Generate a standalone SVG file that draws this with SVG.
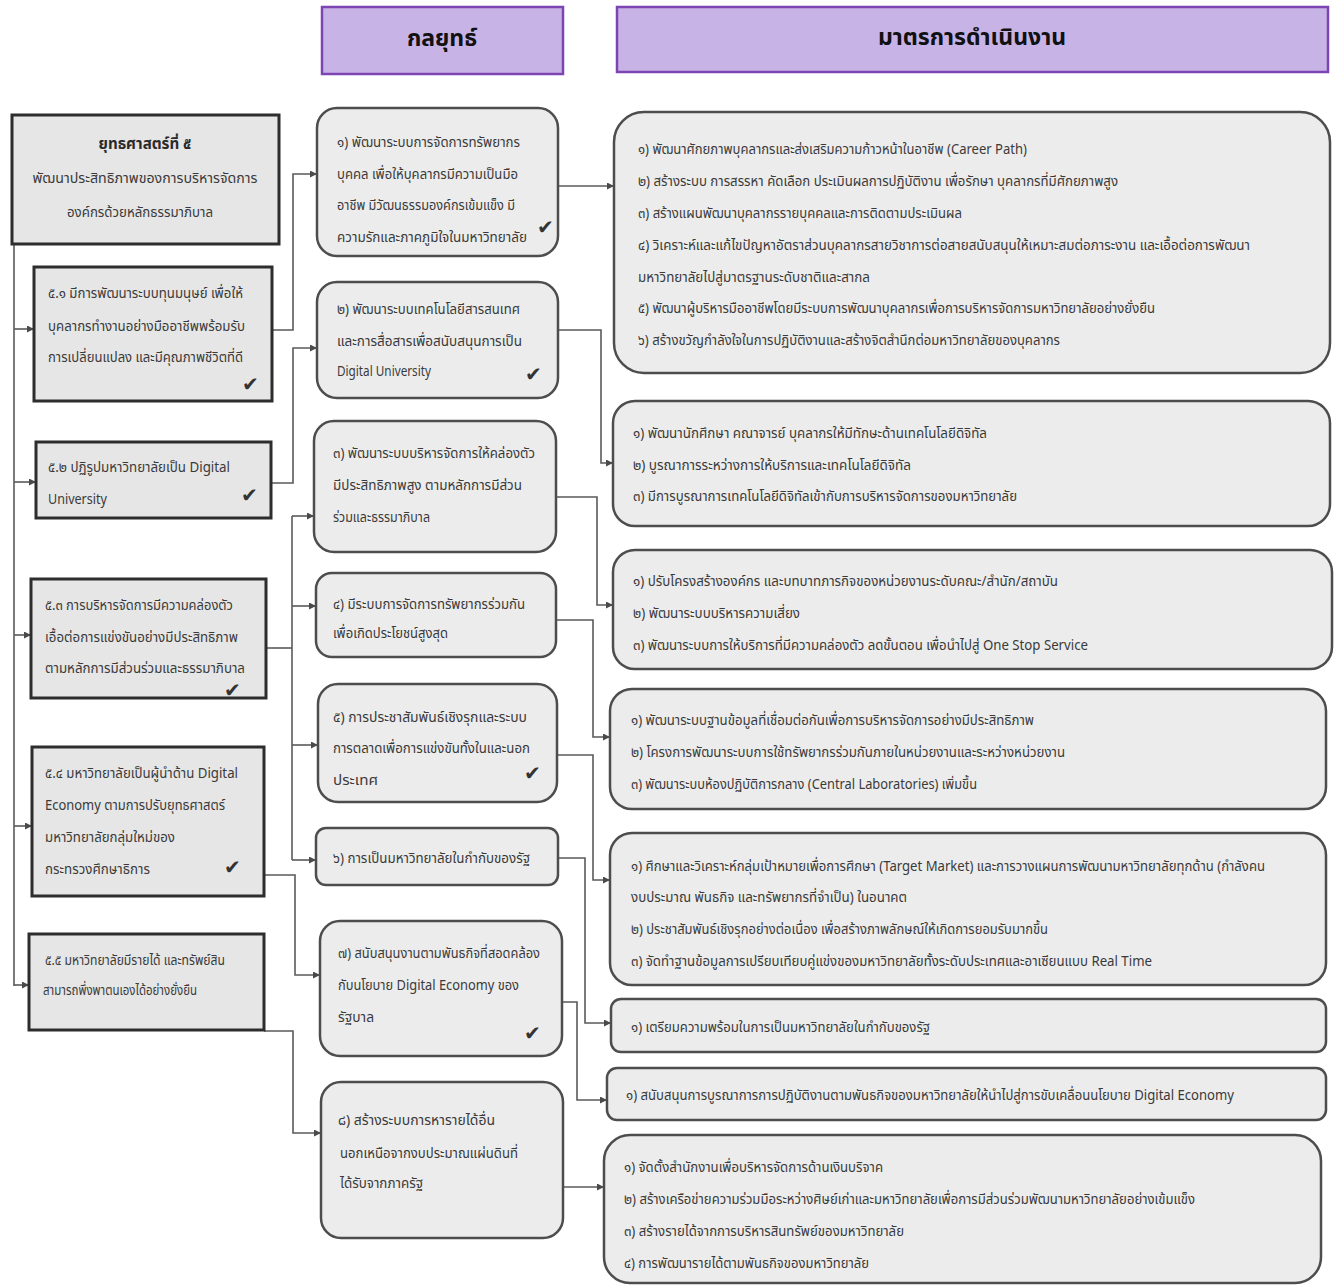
<svg xmlns="http://www.w3.org/2000/svg" width="1339" height="1286" viewBox="0 0 1339 1286">
<style>
.hdr{fill:#c8b3e7;stroke:#7d45b3;stroke-width:2.5}
.hdrt{font-family:"Noto Sans Thai","Noto Sans","DejaVu Sans",sans-serif;font-size:23px;font-weight:bold;fill:#111;text-anchor:middle}
.lb{fill:#e6e6e6;stroke:#2d2d2d;stroke-width:3}
.rb{fill:#ececec;stroke:#4d4d4d;stroke-width:2.5}
.t{font-family:"Noto Sans Thai","Noto Sans","DejaVu Sans",sans-serif;font-size:14px;fill:#3a3a3a}
.tb{font-family:"Noto Sans Thai","Noto Sans","DejaVu Sans",sans-serif;font-size:15px;font-weight:bold;fill:#2a2a2a;text-anchor:middle}
.tc{font-family:"Noto Sans Thai","Noto Sans","DejaVu Sans",sans-serif;font-size:14px;fill:#3a3a3a;text-anchor:middle}
.ck{font-family:"DejaVu Sans",sans-serif;font-size:20px;fill:#333}
.c{fill:none;stroke:#5a5a5a;stroke-width:1.6}
</style>
<defs>
<marker id="ah" viewBox="0 0 10 10" refX="10" refY="5" markerWidth="7" markerHeight="7" markerUnits="userSpaceOnUse" orient="auto">
<path d="M0,0 L10,5 L0,10 z" fill="#4a4a4a"/>
</marker>
</defs>
<rect width="1339" height="1286" fill="#ffffff"/>

<g id="header-strategy">
<rect class="hdr" x="322" y="7" width="241" height="67"/>
<text class="hdrt" x="442" y="46">กลยุทธ์</text>
</g>
<g id="header-measures">
<rect class="hdr" x="617" y="7" width="711" height="65"/>
<text class="hdrt" x="972" y="45">มาตรการดำเนินงาน</text>
</g>

<g id="connectors">
<path class="c" d="M14,244 V986"/>
<path class="c" d="M14,329 H34" marker-end="url(#ah)"/>
<path class="c" d="M14,482 H36" marker-end="url(#ah)"/>
<path class="c" d="M14,635 H31" marker-end="url(#ah)"/>
<path class="c" d="M14,826 H32" marker-end="url(#ah)"/>
<path class="c" d="M14,985 H29" marker-end="url(#ah)"/>

<path class="c" d="M272,330 H293 V174 H317" marker-end="url(#ah)"/>
<path class="c" d="M271,483 H293 V348 H317" marker-end="url(#ah)"/>
<path class="c" d="M266,648 H292"/>
<path class="c" d="M292,516 V860"/>
<path class="c" d="M292,516 H314" marker-end="url(#ah)"/>
<path class="c" d="M292,606 H316" marker-end="url(#ah)"/>
<path class="c" d="M292,745 H318" marker-end="url(#ah)"/>
<path class="c" d="M292,860 H316" marker-end="url(#ah)"/>
<path class="c" d="M264,875 H295 V975 H320" marker-end="url(#ah)"/>
<path class="c" d="M264,1031 H293 V1133 H321" marker-end="url(#ah)"/>

<path class="c" d="M558,186 H614" marker-end="url(#ah)"/>
<path class="c" d="M558,330 H601 V463 H613" marker-end="url(#ah)"/>
<path class="c" d="M556,497 H597 V605 H613" marker-end="url(#ah)"/>
<path class="c" d="M556,620 H593 V737 H610" marker-end="url(#ah)"/>
<path class="c" d="M557,755 H593 V880 H610" marker-end="url(#ah)"/>
<path class="c" d="M558,858 H585 V1023 H611" marker-end="url(#ah)"/>
<path class="c" d="M562,1002 H577 V1100 H607" marker-end="url(#ah)"/>
<path class="c" d="M563,1187 H604" marker-end="url(#ah)"/>
</g>

<g id="goal5">
<rect class="lb" x="12" y="115" width="267" height="129"/>
<text class="tb" x="145" y="149" textLength="93" lengthAdjust="spacingAndGlyphs">ยุทธศาสตร์ที่ ๕</text>
<text class="tc" x="145" y="183" textLength="225" lengthAdjust="spacingAndGlyphs">พัฒนาประสิทธิภาพของการบริหารจัดการ</text>
<text class="tc" x="140" y="217" textLength="146" lengthAdjust="spacingAndGlyphs">องค์กรด้วยหลักธรรมาภิบาล</text>
</g>

<g id="goal5-1">
<rect class="lb" x="34" y="267" width="238" height="134"/>
<text class="t" x="48" y="298" textLength="195" lengthAdjust="spacingAndGlyphs">๕.๑ มีการพัฒนาระบบทุนมนุษย์ เพื่อให้</text>
<text class="t" x="48" y="331" textLength="197" lengthAdjust="spacingAndGlyphs">บุคลากรทำงานอย่างมืออาชีพพร้อมรับ</text>
<text class="t" x="48" y="362" textLength="195" lengthAdjust="spacingAndGlyphs">การเปลี่ยนแปลง และมีคุณภาพชีวิตที่ดี</text>
<text class="ck" x="242" y="391">✔</text>
</g>

<g id="goal5-2">
<rect class="lb" x="36" y="442" width="235" height="76"/>
<text class="t" x="48" y="472" textLength="182" lengthAdjust="spacingAndGlyphs">๕.๒ ปฏิรูปมหาวิทยาลัยเป็น Digital</text>
<text class="t" x="48" y="504" textLength="59" lengthAdjust="spacingAndGlyphs">University</text>
<text class="ck" x="241" y="502">✔</text>
</g>

<g id="goal5-3">
<rect class="lb" x="31" y="579" width="235" height="119"/>
<text class="t" x="45" y="610" textLength="188" lengthAdjust="spacingAndGlyphs">๕.๓ การบริหารจัดการมีความคล่องตัว</text>
<text class="t" x="45" y="642" textLength="193" lengthAdjust="spacingAndGlyphs">เอื้อต่อการแข่งขันอย่างมีประสิทธิภาพ</text>
<text class="t" x="45" y="673" textLength="200" lengthAdjust="spacingAndGlyphs">ตามหลักการมีส่วนร่วมและธรรมาภิบาล</text>
<text class="ck" x="224" y="697">✔</text>
</g>

<g id="goal5-4">
<rect class="lb" x="32" y="747" width="232" height="149"/>
<text class="t" x="45" y="778" textLength="193" lengthAdjust="spacingAndGlyphs">๕.๔ มหาวิทยาลัยเป็นผู้นำด้าน Digital</text>
<text class="t" x="45" y="810" textLength="180" lengthAdjust="spacingAndGlyphs">Economy ตามการปรับยุทธศาสตร์</text>
<text class="t" x="45" y="842" textLength="130" lengthAdjust="spacingAndGlyphs">มหาวิทยาลัยกลุ่มใหม่ของ</text>
<text class="t" x="45" y="874" textLength="105" lengthAdjust="spacingAndGlyphs">กระทรวงศึกษาธิการ</text>
<text class="ck" x="224" y="874">✔</text>
</g>

<g id="goal5-5">
<rect class="lb" x="29" y="934" width="235" height="96"/>
<text class="t" x="45" y="965" textLength="180" lengthAdjust="spacingAndGlyphs">๕.๕ มหาวิทยาลัยมีรายได้ และทรัพย์สิน</text>
<text class="t" x="43" y="995" textLength="154" lengthAdjust="spacingAndGlyphs">สามารถพึ่งพาตนเองได้อย่างยั่งยืน</text>
</g>

<g id="strategy1">
<rect class="rb" x="317" y="108" width="241" height="148" rx="20"/>
<text class="t" x="337" y="147" textLength="183" lengthAdjust="spacingAndGlyphs">๑) พัฒนาระบบการจัดการทรัพยากร</text>
<text class="t" x="337" y="179" textLength="181" lengthAdjust="spacingAndGlyphs">บุคคล เพื่อให้บุคลากรมีความเป็นมือ</text>
<text class="t" x="337" y="210" textLength="178" lengthAdjust="spacingAndGlyphs">อาชีพ มีวัฒนธรรมองค์กรเข้มแข็ง มี</text>
<text class="t" x="337" y="242" textLength="190" lengthAdjust="spacingAndGlyphs">ความรักและภาคภูมิใจในมหาวิทยาลัย</text>
<text class="ck" x="537" y="234">✔</text>
</g>

<g id="strategy2">
<rect class="rb" x="317" y="282" width="241" height="116" rx="20"/>
<text class="t" x="337" y="314" textLength="183" lengthAdjust="spacingAndGlyphs">๒) พัฒนาระบบเทคโนโลยีสารสนเทศ</text>
<text class="t" x="337" y="346" textLength="185" lengthAdjust="spacingAndGlyphs">และการสื่อสารเพื่อสนับสนุนการเป็น</text>
<text class="t" x="337" y="376" textLength="94" lengthAdjust="spacingAndGlyphs">Digital University</text>
<text class="ck" x="525" y="381">✔</text>
</g>

<g id="strategy3">
<rect class="rb" x="314" y="421" width="242" height="131" rx="20"/>
<text class="t" x="333" y="458" textLength="202" lengthAdjust="spacingAndGlyphs">๓) พัฒนาระบบบริหารจัดการให้คล่องตัว</text>
<text class="t" x="333" y="490" textLength="189" lengthAdjust="spacingAndGlyphs">มีประสิทธิภาพสูง ตามหลักการมีส่วน</text>
<text class="t" x="333" y="522" textLength="97" lengthAdjust="spacingAndGlyphs">ร่วมและธรรมาภิบาล</text>
</g>

<g id="strategy4">
<rect class="rb" x="316" y="573" width="240" height="84" rx="16"/>
<text class="t" x="333" y="609" textLength="192" lengthAdjust="spacingAndGlyphs">๔) มีระบบการจัดการทรัพยากรร่วมกัน</text>
<text class="t" x="333" y="638" textLength="115" lengthAdjust="spacingAndGlyphs">เพื่อเกิดประโยชน์สูงสุด</text>
</g>

<g id="strategy5">
<rect class="rb" x="318" y="684" width="239" height="118" rx="20"/>
<text class="t" x="333" y="722" textLength="194" lengthAdjust="spacingAndGlyphs">๕) การประชาสัมพันธ์เชิงรุกและระบบ</text>
<text class="t" x="333" y="753" textLength="197" lengthAdjust="spacingAndGlyphs">การตลาดเพื่อการแข่งขันทั้งในและนอก</text>
<text class="t" x="333" y="785" textLength="45" lengthAdjust="spacingAndGlyphs">ประเทศ</text>
<text class="ck" x="524" y="780">✔</text>
</g>

<g id="strategy6">
<rect class="rb" x="316" y="828" width="242" height="57" rx="10"/>
<text class="t" x="333" y="863" textLength="197" lengthAdjust="spacingAndGlyphs">๖) การเป็นมหาวิทยาลัยในกำกับของรัฐ</text>
</g>

<g id="strategy7">
<rect class="rb" x="320" y="921" width="242" height="135" rx="20"/>
<text class="t" x="338" y="958" textLength="202" lengthAdjust="spacingAndGlyphs">๗) สนับสนุนงานตามพันธกิจที่สอดคล้อง</text>
<text class="t" x="338" y="990" textLength="181" lengthAdjust="spacingAndGlyphs">กับนโยบาย Digital Economy ของ</text>
<text class="t" x="338" y="1022" textLength="36" lengthAdjust="spacingAndGlyphs">รัฐบาล</text>
<text class="ck" x="524" y="1040">✔</text>
</g>

<g id="strategy8">
<rect class="rb" x="321" y="1082" width="242" height="156" rx="20"/>
<text class="t" x="338" y="1125" textLength="157" lengthAdjust="spacingAndGlyphs">๘) สร้างระบบการหารายได้อื่น</text>
<text class="t" x="340" y="1158" textLength="178" lengthAdjust="spacingAndGlyphs">นอกเหนือจากงบประมาณแผ่นดินที่</text>
<text class="t" x="340" y="1188" textLength="83" lengthAdjust="spacingAndGlyphs">ได้รับจากภาครัฐ</text>
</g>

<g id="measures1">
<rect class="rb" x="614" y="112" width="716" height="261" rx="30"/>
<text class="t" x="638" y="154" textLength="389" lengthAdjust="spacingAndGlyphs">๑) พัฒนาศักยภาพบุคลากรและส่งเสริมความก้าวหน้าในอาชีพ (Career Path)</text>
<text class="t" x="638" y="186" textLength="480" lengthAdjust="spacingAndGlyphs">๒) สร้างระบบ การสรรหา คัดเลือก ประเมินผลการปฏิบัติงาน เพื่อรักษา บุคลากรที่มีศักยภาพสูง</text>
<text class="t" x="638" y="218" textLength="324" lengthAdjust="spacingAndGlyphs">๓) สร้างแผนพัฒนาบุคลากรรายบุคคลและการติดตามประเมินผล</text>
<text class="t" x="638" y="250" textLength="612" lengthAdjust="spacingAndGlyphs">๔) วิเคราะห์และแก้ไขปัญหาอัตราส่วนบุคลากรสายวิชาการต่อสายสนับสนุนให้เหมาะสมต่อภาระงาน และเอื้อต่อการพัฒนา</text>
<text class="t" x="638" y="282" textLength="232" lengthAdjust="spacingAndGlyphs">มหาวิทยาลัยไปสู่มาตรฐานระดับชาติและสากล</text>
<text class="t" x="638" y="313" textLength="517" lengthAdjust="spacingAndGlyphs">๕) พัฒนาผู้บริหารมืออาชีพโดยมีระบบการพัฒนาบุคลากรเพื่อการบริหารจัดการมหาวิทยาลัยอย่างยั่งยืน</text>
<text class="t" x="638" y="345" textLength="422" lengthAdjust="spacingAndGlyphs">๖) สร้างขวัญกำลังใจในการปฏิบัติงานและสร้างจิตสำนึกต่อมหาวิทยาลัยของบุคลากร</text>
</g>

<g id="measures2">
<rect class="rb" x="613" y="401" width="717" height="125" rx="22"/>
<text class="t" x="633" y="438" textLength="354" lengthAdjust="spacingAndGlyphs">๑) พัฒนานักศึกษา คณาจารย์ บุคลากรให้มีทักษะด้านเทคโนโลยีดิจิทัล</text>
<text class="t" x="633" y="470" textLength="278" lengthAdjust="spacingAndGlyphs">๒) บูรณาการระหว่างการให้บริการและเทคโนโลยีดิจิทัล</text>
<text class="t" x="633" y="501" textLength="384" lengthAdjust="spacingAndGlyphs">๓) มีการบูรณาการเทคโนโลยีดิจิทัลเข้ากับการบริหารจัดการของมหาวิทยาลัย</text>
</g>

<g id="measures3">
<rect class="rb" x="613" y="550" width="719" height="119" rx="22"/>
<text class="t" x="633" y="586" textLength="425" lengthAdjust="spacingAndGlyphs">๑) ปรับโครงสร้างองค์กร และบทบาทภารกิจของหน่วยงานระดับคณะ/สำนัก/สถาบัน</text>
<text class="t" x="633" y="618" textLength="167" lengthAdjust="spacingAndGlyphs">๒) พัฒนาระบบบริหารความเสี่ยง</text>
<text class="t" x="633" y="650" textLength="455" lengthAdjust="spacingAndGlyphs">๓) พัฒนาระบบการให้บริการที่มีความคล่องตัว ลดขั้นตอน เพื่อนำไปสู่ One Stop Service</text>
</g>

<g id="measures4">
<rect class="rb" x="610" y="689" width="716" height="120" rx="22"/>
<text class="t" x="631" y="725" textLength="403" lengthAdjust="spacingAndGlyphs">๑) พัฒนาระบบฐานข้อมูลที่เชื่อมต่อกันเพื่อการบริหารจัดการอย่างมีประสิทธิภาพ</text>
<text class="t" x="631" y="757" textLength="434" lengthAdjust="spacingAndGlyphs">๒) โครงการพัฒนาระบบการใช้ทรัพยากรร่วมกันภายในหน่วยงานและระหว่างหน่วยงาน</text>
<text class="t" x="631" y="789" textLength="346" lengthAdjust="spacingAndGlyphs">๓) พัฒนาระบบห้องปฏิบัติการกลาง (Central Laboratories) เพิ่มขึ้น</text>
</g>

<g id="measures5">
<rect class="rb" x="610" y="833" width="716" height="152" rx="22"/>
<text class="t" x="631" y="871" textLength="634" lengthAdjust="spacingAndGlyphs">๑) ศึกษาและวิเคราะห์กลุ่มเป้าหมายเพื่อการศึกษา (Target Market) และการวางแผนการพัฒนามหาวิทยาลัยทุกด้าน (กำลังคน</text>
<text class="t" x="631" y="902" textLength="276" lengthAdjust="spacingAndGlyphs">งบประมาณ พันธกิจ และทรัพยากรที่จำเป็น) ในอนาคต</text>
<text class="t" x="631" y="934" textLength="417" lengthAdjust="spacingAndGlyphs">๒) ประชาสัมพันธ์เชิงรุกอย่างต่อเนื่อง เพื่อสร้างภาพลักษณ์ให้เกิดการยอมรับมากขึ้น</text>
<text class="t" x="631" y="966" textLength="521" lengthAdjust="spacingAndGlyphs">๓) จัดทำฐานข้อมูลการเปรียบเทียบคู่แข่งของมหาวิทยาลัยทั้งระดับประเทศและอาเซียนแบบ Real Time</text>
</g>

<g id="measures6">
<rect class="rb" x="611" y="999" width="715" height="53" rx="10"/>
<text class="t" x="631" y="1032" textLength="299" lengthAdjust="spacingAndGlyphs">๑) เตรียมความพร้อมในการเป็นมหาวิทยาลัยในกำกับของรัฐ</text>
</g>

<g id="measures7">
<rect class="rb" x="607" y="1068" width="719" height="52" rx="10"/>
<text class="t" x="626" y="1100" textLength="608" lengthAdjust="spacingAndGlyphs">๑) สนับสนุนการบูรณาการการปฏิบัติงานตามพันธกิจของมหาวิทยาลัยให้นำไปสู่การขับเคลื่อนนโยบาย Digital Economy</text>
</g>

<g id="measures8">
<rect class="rb" x="604" y="1135" width="717" height="148" rx="26"/>
<text class="t" x="624" y="1172" textLength="259" lengthAdjust="spacingAndGlyphs">๑) จัดตั้งสำนักงานเพื่อบริหารจัดการด้านเงินบริจาค</text>
<text class="t" x="624" y="1204" textLength="571" lengthAdjust="spacingAndGlyphs">๒) สร้างเครือข่ายความร่วมมือระหว่างศิษย์เก่าและมหาวิทยาลัยเพื่อการมีส่วนร่วมพัฒนามหาวิทยาลัยอย่างเข้มแข็ง</text>
<text class="t" x="624" y="1236" textLength="280" lengthAdjust="spacingAndGlyphs">๓) สร้างรายได้จากการบริหารสินทรัพย์ของมหาวิทยาลัย</text>
<text class="t" x="624" y="1268" textLength="245" lengthAdjust="spacingAndGlyphs">๔) การพัฒนารายได้ตามพันธกิจของมหาวิทยาลัย</text>
</g>
</svg>
